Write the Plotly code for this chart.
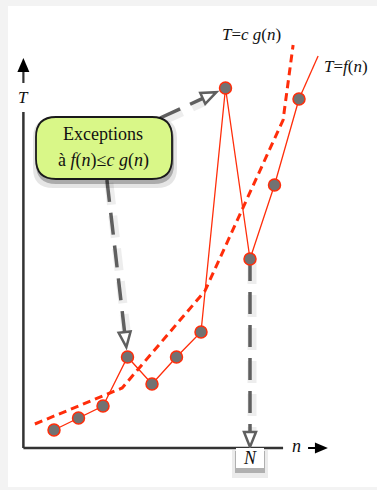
import math
import plotly.graph_objects as go

# measured points: n and running time T = f(n)
n_values = [1, 2, 3, 4, 5, 6, 7, 8, 9, 10, 11]
f_values = [4.5, 7.5, 10.5, 22.75, 16, 22.75, 29, 90, 47.25, 65.75, 87.25]
# the f(n) line runs on past the last point up to its label
f_tail_n = [11, 11.78]
f_tail_values = [87.25, 98]

# the bound c g(n), drawn dashed
g_n = [0.22, 3.78, 7.16, 10.35, 10.76]
g_values = [6, 15, 39.25, 82, 100.75]

exception_n = [8, 4]   # points above the bound, pointed at by the callout
cutoff_n = 9           # N

label_g = "<i>T</i>=<i>c g</i>(<i>n</i>)"
label_f = "<i>T</i>=<i>f</i>(<i>n</i>)"
callout_lines = ["Exceptions", "à <i>f</i>(<i>n</i>)≤<i>c g</i>(<i>n</i>)"]

W, H = 377, 490
ML, MR, MT, MB = 8, 0, 6, 3
X_RANGE = [-0.878, 14.184]
Y_RANGE = [-9.75, 110.5]
SX = (W - ML - MR) / (X_RANGE[1] - X_RANGE[0])
SY = (H - MT - MB) / (Y_RANGE[1] - Y_RANGE[0])
AXIS_N = -0.25

RED = "#ff2d0a"
GRAY = "#5f5f5f"
BG = "#f3f3f3"
SERIF = "Liberation Serif"


def to_px(n, t):
    return ML + (n - X_RANGE[0]) * SX, MT + (Y_RANGE[1] - t) * SY


def to_data(x, y):
    return X_RANGE[0] + (x - ML) / SX, Y_RANGE[1] - (y - MT) / SY


def poly_path(pts):
    d = [to_data(x, y) for x, y in pts]
    return "M" + " L".join(f"{a:.4f},{b:.4f}" for a, b in d) + " Z"


def head(tip, u, length, half):
    bx, by = tip[0] - u[0] * length, tip[1] - u[1] * length
    px_, py_ = -u[1], u[0]
    return [tip, (bx + px_ * half, by + py_ * half), (bx - px_ * half, by - py_ * half)]


def rounded_rect(x0, y0, x1, y1, r):
    # pixel box -> svg path in data coords
    p = lambda x, y: "%.4f,%.4f" % to_data(x, y)
    return ("M" + p(x0 + r, y0) + " L" + p(x1 - r, y0) + " Q" + p(x1, y0) + " " + p(x1, y0 + r) +
            " L" + p(x1, y1 - r) + " Q" + p(x1, y1) + " " + p(x1 - r, y1) +
            " L" + p(x0 + r, y1) + " Q" + p(x0, y1) + " " + p(x0, y1 - r) +
            " L" + p(x0, y0 + r) + " Q" + p(x0, y0) + " " + p(x0 + r, y0) + " Z")


fig = go.Figure()
shapes = []

# axes
shapes.append(dict(type="line", x0=AXIS_N, y0=0, x1=AXIS_N, y1=84, line=dict(color="#333", width=2.5)))
shapes.append(dict(type="line", x0=AXIS_N, y0=0, x1=10.35, y1=0, line=dict(color="#333", width=2.5)))
shapes.append(dict(type="line", x0=AXIS_N, y0=91.25, x1=AXIS_N, y1=94.5, line=dict(color="#333", width=2.2)))
shapes.append(dict(type="line", x0=11.37, y0=0, x1=11.75, y1=0, line=dict(color="black", width=2)))
ax_x, ax_top = to_px(AXIS_N, 97.5)
shapes.append(dict(type="path", path=poly_path(head((ax_x, ax_top), (0, -1), 14, 6)),
                   fillcolor="black", line=dict(width=0)))
hx, hy = to_px(12.18, 0)
shapes.append(dict(type="path", path=poly_path(head((hx, hy), (1, 0), 13, 5.5)),
                   fillcolor="black", line=dict(width=0)))

# gray dashed arrows
arrows = [((5.33, 82.5), exception_n[0], 10), ((3.16, 67), exception_n[1], 10), (None, cutoff_n, 1)]
for start, k, back in arrows:
    target = (k, f_values[n_values.index(k)]) if start is not None else (k, 0)
    if start is None:
        start = (k, f_values[n_values.index(k)])
    sx, sy = to_px(*start)
    tx, ty = to_px(*target)
    L = math.hypot(tx - sx, ty - sy)
    u = ((tx - sx) / L, (ty - sy) / L)
    tip = (tx - u[0] * back, ty - u[1] * back)
    base = (tip[0] - u[0] * 15, tip[1] - u[1] * 15)
    for off, col, w in [((2, 3), "rgba(0,0,0,0.07)", 9), ((0, 0), GRAY, 3.5)]:
        a = to_data(sx + off[0], sy + off[1])
        b = to_data(base[0] + off[0], base[1] + off[1])
        fig.add_trace(go.Scatter(x=[a[0], b[0]], y=[a[1], b[1]], mode="lines",
                                 line=dict(color=col, width=w, dash="22px,11px"),
                                 hoverinfo="skip"))
    shapes.append(dict(type="path", path=poly_path(head(tip, u, 15, 6)),
                       fillcolor="white", line=dict(color=GRAY, width=2.5)))

# c g(n)
fig.add_trace(go.Scatter(x=g_n, y=g_values, mode="lines",
                         line=dict(color=RED, width=3, dash="8px,5px"), hoverinfo="skip"))
# f(n)
fig.add_trace(go.Scatter(x=f_tail_n, y=f_tail_values, mode="lines",
                         line=dict(color=RED, width=1.3), hoverinfo="skip"))
fig.add_trace(go.Scatter(x=n_values, y=f_values, mode="lines+markers",
                         line=dict(color=RED, width=1.3),
                         marker=dict(size=12, color="#727272", line=dict(color=RED, width=1.5)),
                         hoverinfo="skip"))

# callout box
for dx, dy, grow, col in [(1, 5, 4, "rgba(0,0,0,0.10)"), (1, 4, 1, "rgba(0,0,0,0.25)")]:
    shapes.append(dict(type="path", path=rounded_rect(36 + dx - grow, 117 + dy - grow, 172 + dx + grow, 179 + dy + grow, 20),
                       fillcolor=col, line=dict(width=0)))
shapes.append(dict(type="path", path=rounded_rect(36, 117, 172, 179, 20),
                   fillcolor="#d9f788", line=dict(color="#1a1a1a", width=1.8)))

# N box on the n axis
bx, by = to_px(cutoff_n, 0)
for dy, grow, col in [(6, 4, "rgba(0,0,0,0.08)"), (4, 1, "rgba(0,0,0,0.25)")]:
    shapes.append(dict(type="path", path=poly_path([(bx - 14 - grow, by + dy - grow), (bx + 14 + grow, by + dy - grow),
                                                    (bx + 14 + grow, by + 20 + dy + grow), (bx - 14 - grow, by + 20 + dy + grow)]),
                       fillcolor=col, line=dict(width=0)))
shapes.append(dict(type="path", path=poly_path([(bx - 14, by), (bx + 14, by), (bx + 14, by + 20), (bx - 14, by + 20)]),
                   fillcolor="white", line=dict(width=0)))

ann = []


def text(n, t, s, size=15, xanchor="center"):
    ann.append(dict(x=n, y=t, text=s, showarrow=False, xanchor=xanchor, yanchor="middle",
                    font=dict(family=SERIF, size=size, color="#111")))


text(AXIS_N, 87.75, "<i>T</i>", 17)
text(10.88, 0.6, "<i>n</i>", 18)
text(cutoff_n, to_data(bx, by + 10)[1], "<i>N</i>", 18)
text(9.08, 103.3, label_g, 17)
text(11.95, 95.3, label_f, 17, "left")
cx, _ = to_data(103, 0)
text(cx, to_data(0, 134)[1], callout_lines[0], 18)
text(cx, to_data(0, 160)[1], callout_lines[1], 18)

fig.update_layout(width=W, height=H, margin=dict(l=ML, r=MR, t=MT, b=MB),
                  paper_bgcolor=BG, plot_bgcolor="white", showlegend=False,
                  xaxis=dict(range=X_RANGE, visible=False),
                  yaxis=dict(range=Y_RANGE, visible=False),
                  shapes=shapes, annotations=ann, hovermode=False)

# page body has an 8px margin by default, drop it so the figure sits at 0,0
fig.write_html("out.html", config={"displayModeBar": False},
               post_script="document.body.style.margin='0';document.body.style.background='%s';" % BG)
